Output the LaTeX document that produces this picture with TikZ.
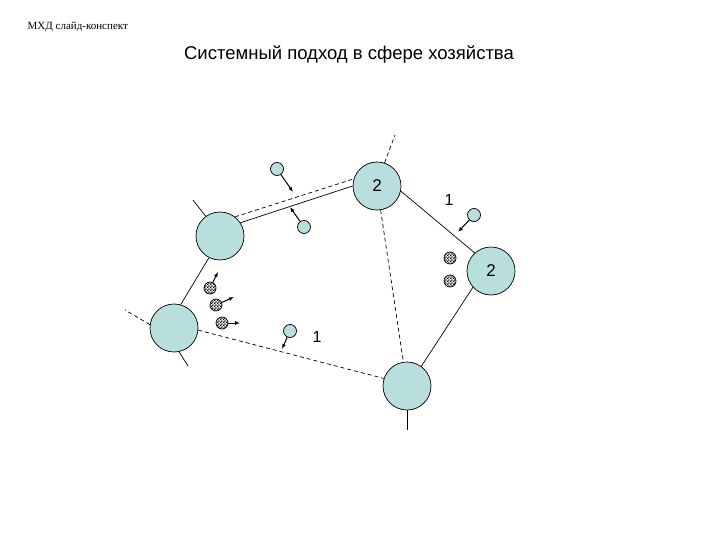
\documentclass[tikz,border=0pt]{standalone}
\usepackage{fontspec}
\setmainfont{Liberation Sans}
\newfontfamily\hdrfont{Liberation Serif}
\usetikzlibrary{arrows.meta, patterns}
\definecolor{ballfill}{RGB}{185,222,222}
\pgfdeclarepatternformonly{finecheck}{\pgfqpoint{0pt}{0pt}}{\pgfqpoint{3.2pt}{3.2pt}}{\pgfqpoint{3.2pt}{3.2pt}}{%
  \pgfpathrectangle{\pgfqpoint{0pt}{0pt}}{\pgfqpoint{1.6pt}{1.6pt}}%
  \pgfpathrectangle{\pgfqpoint{1.6pt}{1.6pt}}{\pgfqpoint{1.6pt}{1.6pt}}%
  \pgfusepath{fill}}

\begin{document}
\begin{tikzpicture}[x=1pt,y=-1pt,line width=0.7pt,
  big/.style={circle,draw,fill=ballfill,minimum size=48pt,inner sep=0pt,font=\fontsize{17}{17}\selectfont},
  small/.style={circle,draw,fill=ballfill,minimum size=13pt,inner sep=0pt},
  chk/.style={circle,draw,pattern=finecheck,minimum size=12pt,inner sep=0pt},
  dsh/.style={dash pattern=on 4pt off 3pt},
  push/.style={line width=1pt,-{Latex[length=5pt,width=4pt]}}]
\useasboundingbox[fill=white] (0,0) rectangle (720,540);
\node at (24,27) [anchor=west,font=\hdrfont\fontsize{11}{11}\selectfont] (hdr) {МХД слайд-конспект};
\node at (349,55) [font=\fontsize{18.5}{18.5}\selectfont] (title) {Системный подход в сфере хозяйства};
\node at (220,236) [big] (A) {};
\node at (377,186) [big] (B) {2};
\node at (491,271) [big] (C) {2};
\node at (174,328) [big] (D) {};
\node at (407,386) [big] (E) {};
\coordinate (aend) at (193,200);
\coordinate (bend) at (395,135);
\coordinate (dwest) at (125,310);
\coordinate (dsouth) at (188,366);
\coordinate (esouth) at (407,430);
\draw (A.126) -- (aend);
\draw [dsh] (B.72) -- (bend);
\draw [dsh] (A.52) -- (B.163);
\draw (A.33) -- (B.180);
\draw [dsh] (B) -- (E);
\draw (B.-12) -- (C.132);
\draw (C.222) -- (E.54);
\draw (A.243) -- (D.74);
\draw [dsh] (D.172) -- (dwest);
\draw (D.-78) -- (dsouth);
\draw [dsh] (D.-5) -- (E.162);
\draw (E.south) -- (esouth);
\node at (277,169) [small] (s1) {};
\node at (304,227) [small] (s2) {};
\node at (474,215) [small] (s3) {};
\node at (290,331) [small] (s4) {};
\coordinate (t1) at (293,192);
\coordinate (t2) at (290,207);
\coordinate (t3) at (458,232);
\coordinate (t4) at (282,349);
\draw [push] (s1) -- (t1);
\draw [push] (s2) -- (t2);
\draw [push] (s3) -- (t3);
\draw [push] (s4) -- (t4);
\node at (450,258) [chk] (c1) {};
\node at (450,281) [chk] (c2) {};
\node at (210,288) [chk] (d1) {};
\node at (216,305) [chk] (d2) {};
\node at (222,323) [chk] (d3) {};
\coordinate (u1) at (218,272);
\coordinate (u2) at (234,297);
\coordinate (u3) at (240,323);
\draw [push] (d1) -- (u1);
\draw [push] (d2) -- (u2);
\draw [push] (d3) -- (u3);
\node at (449,200) [font=\fontsize{16}{16}\selectfont] (one1) {1};
\node at (317,337) [font=\fontsize{16}{16}\selectfont] (one2) {1};
\end{tikzpicture}
\end{document}
